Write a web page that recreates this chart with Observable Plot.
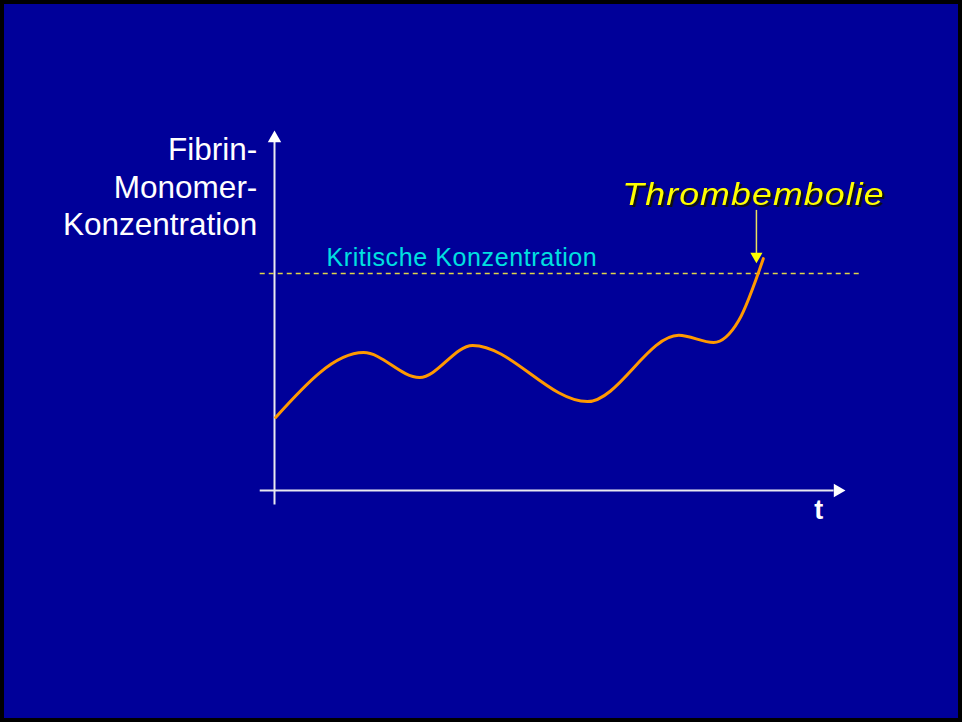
<!DOCTYPE html>
<html>
<head>
<meta charset="utf-8">
<script src="https://cdn.jsdelivr.net/npm/d3@7"></script>
<script src="https://cdn.jsdelivr.net/npm/@observablehq/plot@0.6"></script>
<style>
  html, body { margin: 0; padding: 0; background: #000; }
  #chart svg { display: block; background: #000099; outline: 4px solid #000; outline-offset: -4px; }
</style>
</head>
<body>
<div id="chart"></div>
<script>
// Time (arbitrary units 0..100) and fibrin-monomer concentration (arbitrary units 0..100)
const time = [0.2, 15.6, 25.4, 34.7, 54.8, 70.8, 76.9, 81.3, 85.6];
const concentration = [20.3, 38.3, 31.4, 40.3, 24.7, 43.1, 41.1, 47.2, 64.4];
const criticalLevel = 60.3;
const thromboTime = 84.4;
const yLabelLines = ["Fibrin-", "Monomer-", "Konzentration"];
const criticalLabel = "Kritische Konzentration";
const eventLabel = "Thrombembolie";
const xLabel = "t";

const data = time.map((t, i) => ({t, c: concentration[i]}));

const plot = Plot.plot({
  width: 962,
  height: 722,
  margin: 0,
  style: {background: "#000099", fontFamily: "Liberation Sans, Arial, sans-serif"},
  x: {domain: [0, 100], range: [274, 845], axis: null},
  y: {domain: [0, 100], range: [490, 130], axis: null},
  marks: [
    // axes
    Plot.ruleX([0], {y1: -4, y2: 97.5, stroke: "#e8e8f0", strokeWidth: 2}),
    Plot.ruleY([0], {x1: -2.5, x2: 98, stroke: "#e8e8f0", strokeWidth: 2}),
    Plot.dot([{x: 0, y: 100}], {x: "x", y: "y", symbol: "triangle", r: 5, fill: "#ffffff", stroke: "none", dy: 7.8}),
    Plot.dot([{x: 100, y: 0}], {x: "x", y: "y", symbol: "triangle", r: 5, fill: "#ffffff", stroke: "none", rotate: 90, dx: -7.8}),
    // critical level
    Plot.ruleY([criticalLevel], {x1: -2.5, x2: 102.6, stroke: "#e0d448", strokeWidth: 1.5, strokeDasharray: "5,4"}),
    Plot.text([criticalLabel], {x: 9.1, y: criticalLevel, dy: -15, text: d => d, textAnchor: "start", fill: "#00e0e0", fontSize: 25}),
    // curve
    Plot.line(data, {x: "t", y: "c", curve: "monotone-x", stroke: "#ff9900", strokeWidth: 3}),
    // event arrow
    Plot.ruleX([thromboTime], {y1: 77.8, y2: 65.5, stroke: "#e6e060", strokeWidth: 1.5}),
    Plot.dot([{x: thromboTime, y: 63.1}], {x: "x", y: "y", symbol: "triangle", r: 4.5, fill: "#ffff00", stroke: "none", rotate: 180, dy: -7}),
    Plot.text([eventLabel], {x: 83.9, y: 82.2, text: d => d, fill: "#ffff00", fontSize: 31, fontStyle: "italic"}),
    // y label
    Plot.text([yLabelLines.join("\n")], {x: -3, y: 84.7, text: d => d, textAnchor: "end", lineAnchor: "middle", lineHeight: 1.2, fill: "#ffffff", fontSize: 31.5}),
    // x label
    Plot.text([xLabel], {x: 95.3, y: -5.5, text: d => d, fill: "#ffffff", fontSize: 27, fontWeight: "bold"})
  ]
});
document.getElementById("chart").append(plot);
const svgRect = plot.getBoundingClientRect();
plot.querySelectorAll("text").forEach(t => {
  const s = t.textContent;
  if (s === eventLabel) {
    t.setAttribute("letter-spacing", "1");
    const r = t.getBoundingClientRect();
    const cx = r.x + r.width / 2 - svgRect.x;
    const g = document.createElementNS("http://www.w3.org/2000/svg", "g");
    g.setAttribute("transform", `translate(${cx},0) scale(1.15,1) translate(${-cx},0)`);
    g.style.filter = "drop-shadow(2px 2px 0 #101010)";
    t.parentNode.insertBefore(g, t);
    g.appendChild(t);
  } else if (s === criticalLabel) {
    t.setAttribute("letter-spacing", "0.6");
  }
});
</script>
</body>
</html>
